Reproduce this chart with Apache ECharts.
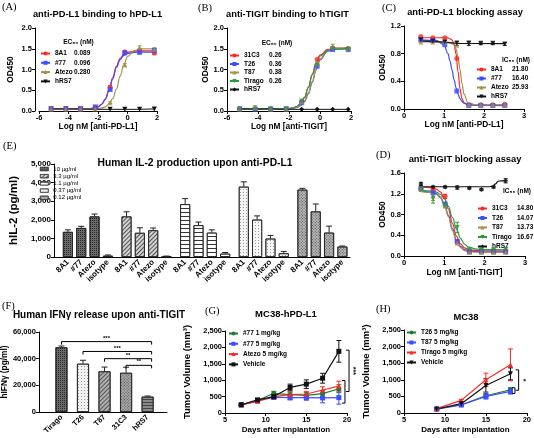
<!DOCTYPE html>
<html><head><meta charset="utf-8">
<script src="https://cdn.jsdelivr.net/npm/echarts@6/dist/echarts.min.js"></script>
<style>html,body{margin:0;padding:0;background:#fff}#c{width:534px;height:438px}</style>
</head><body><div id="c"></div>
<script>
// ---------------- DATA ----------------
// (A) anti-PD-L1 binding to hPD-L1
const aDose = [-5.18,-4.18,-3.18,-2.18,-1.18,-0.18,0.82,1.82];
const a8A1 = [0.05,0.05,0.05,0.08,0.57,1.42,1.46,1.40];
const a8A1Err = [0.01,0.01,0.01,0.01,0.04,0.03,0.03,0.04];
const a77 = [0.05,0.05,0.05,0.10,0.52,1.40,1.42,1.46];
const a77Err = [0.01,0.01,0.01,0.02,0.03,0.04,0.05,0.05];
const aAtezo = [0.05,0.05,0.05,0.05,0.20,1.11,1.53,1.49];
const aAtezoErr = [0.01,0.01,0.01,0.01,0.02,0.03,0.04,0.03];
const aHRS7 = [0.05,0.05,0.05,0.04,0.04,0.04,0.04,0.05];
const aEC50 = {'8A1':'0.089','#77':'0.096','Atezo':'0.280'};
// fitted curves
const aFitX = [-5.2,-3,-2.5,-2,-1.75,-1.5,-1.25,-1,-0.75,-0.5,-0.25,0,0.5,1,1.82];
const a8A1Fit = [0.05,0.052,0.059,0.10,0.165,0.294,0.517,0.81,1.08,1.27,1.367,1.414,1.445,1.45,1.45];
const a77Fit = [0.05,0.052,0.058,0.10,0.16,0.28,0.49,0.77,1.05,1.24,1.34,1.39,1.415,1.42,1.42];
const aAtezoFit = [0.05,0.05,0.051,0.06,0.073,0.10,0.169,0.30,0.53,0.84,1.12,1.31,1.46,1.495,1.5];

// (B) anti-TIGIT binding to hTIGIT
const bDose = [-5.18,-4.18,-3.18,-2.18,-1.18,-0.18,0.82,1.82];
const b31C3 = [0.05,0.05,0.05,0.05,0.22,1.25,1.52,1.50];
const bT26 = [0.05,0.04,0.05,0.05,0.20,1.08,1.48,1.48];
const bT87 = [0.05,0.08,0.05,0.05,0.22,1.15,1.56,1.51];
const bT87Err = [0.01,0.05,0.01,0.01,0.02,0.04,0.05,0.03];
const bTirago = [0.05,0.05,0.05,0.05,0.24,1.10,1.50,1.49];
const bHRS7 = [0.05,0.05,0.05,0.04,0.04,0.04,0.04,0.04];
const bEC50 = {'31C3':'0.26','T26':'0.36','T87':'0.38','Tirago':'0.26'};
const bFitX = [-5.2,-3,-2.5,-2,-1.75,-1.5,-1.25,-1,-0.75,-0.5,-0.25,0,0.5,1,1.82];
const b31C3Fit = [0.05,0.05,0.052,0.061,0.075,0.109,0.182,0.329,0.575,0.885,1.164,1.345,1.486,1.515,1.52];
const bTiragoFit = [0.05,0.05,0.052,0.06,0.074,0.106,0.178,0.32,0.56,0.87,1.14,1.32,1.46,1.49,1.495];
const bT26Fit = [0.05,0.05,0.051,0.056,0.065,0.086,0.131,0.228,0.41,0.69,0.993,1.23,1.444,1.49,1.5];
const bT87Fit = [0.05,0.05,0.051,0.057,0.067,0.09,0.137,0.24,0.43,0.71,1.01,1.25,1.46,1.51,1.52];

// (C) anti-PD-L1 blocking assay
const cDose = [0.42,0.72,1.02,1.32,1.62,1.92,2.22,2.52];
const c8A1 = [1.05,1.03,1.03,0.73,0.06,0.06,0.06,0.07];
const c77 = [1.00,0.99,0.93,0.26,0.05,0.05,0.05,0.05];
const cAtezo = [0.97,0.97,0.97,0.92,0.07,0.06,0.06,0.06];
const cHRS7 = [1.00,0.98,0.97,0.95,0.95,0.95,0.95,0.94];
const cHRS7Err = [0.02,0.02,0.02,0.03,0.03,0.02,0.02,0.02];
const cIC50 = {'8A1':'21.80','#77':'16.40','Atezo':'25.93'};
const cFitX = [0.42,0.8,1.0,1.1,1.15,1.2,1.25,1.3,1.35,1.4,1.45,1.5,1.6,1.8,2.52];
const c8A1Fit = [1.03,1.03,1.03,1.027,1.015,1.0,0.94,0.80,0.545,0.293,0.148,0.09,0.063,0.06,0.06];
const c77Fit = [1.0,0.992,0.926,0.80,0.695,0.566,0.43,0.31,0.216,0.151,0.109,0.084,0.061,0.051,0.05];
const cAtezoFit = [0.97,0.97,0.97,0.968,0.962,0.95,0.928,0.87,0.755,0.572,0.368,0.214,0.088,0.06,0.06];
const cHRS7FitX = [0.42,0.8,1.0,1.2,1.4,2.52];
const cHRS7Fit = [0.985,0.975,0.965,0.955,0.947,0.945];

// (D) anti-TIGIT blocking assay
const dDose = [0.42,0.72,1.02,1.32,1.62,1.92,2.22,2.52];
const d31C3 = [1.30,1.28,1.15,0.28,0.10,0.10,0.10,0.10];
const d31C3Err = [0.03,0.04,0.04,0.03,0.02,0.02,0.02,0.02];
const dT26 = [1.30,1.22,1.00,0.28,0.08,0.08,0.08,0.08];
const dT87 = [1.28,1.15,0.97,0.25,0.07,0.07,0.07,0.07];
const dT87Err = [0.03,0.08,0.03,0.03,0.02,0.02,0.02,0.02];
const dTirago = [1.28,1.12,0.98,0.55,0.12,0.12,0.12,0.13];
const dTiragoErr = [0.03,0.10,0.05,0.10,0.03,0.02,0.02,0.03];
const dHRS7 = [1.39,1.33,1.33,1.32,1.31,1.28,1.33,1.45];
const dHRS7Err = [0.03,0.02,0.02,0.03,0.02,0.02,0.02,0.04];
const dIC50 = {'31C3':'14.80','T26':'14.07','T87':'13.73','Tirago':'16.67'};
const dFitX = [0.42,0.7,0.8,0.9,1.0,1.1,1.2,1.3,1.4,1.5,1.6,1.8,2.0,2.52];
const d31C3Fit = [1.33,1.314,1.29,1.236,1.117,0.907,0.63,0.385,0.232,0.156,0.123,0.104,0.101,0.1];
const dT26Fit = [1.25,1.23,1.204,1.142,1.011,0.79,0.527,0.31,0.184,0.124,0.098,0.083,0.08,0.08];
const dT87Fit = [1.24,1.22,1.19,1.12,0.98,0.76,0.49,0.28,0.16,0.105,0.083,0.072,0.07,0.07];
const dTiragoFit = [1.27,1.253,1.233,1.19,1.106,0.957,0.746,0.52,0.341,0.23,0.172,0.131,0.122,0.12];
const dHRS7FitX = [0.42,1.0,1.5,2.1,2.2,2.27,2.33,2.4,2.52];
const dHRS7Fit = [1.335,1.335,1.335,1.335,1.345,1.39,1.44,1.45,1.45];

// (E) Human IL-2 production upon anti-PD-L1
const eCats = ['8A1','#77','Atezo','isotype'];
const eConc = ['10 µg/ml','3.3 µg/ml','1.1 µg/ml','0.37 µg/ml','0.12 µg/ml'];
const eMeans = [[1350,1560,2180,70],[2180,1300,1440,30],[2840,1710,1310,180],[3780,2010,990,200],[3620,2450,1310,560]];
const eErr = [[110,90,130,40],[250,270,120,20],[300,170,150,60],[260,200,170,100],[70,400,350,30]];

// (F) Human IFNγ release upon anti-TIGIT
const fCats = ['Tirago','T26','T87','31C3','hRS7'];
const fMeans = [48500,36200,30500,29400,11500];
const fErr = [1000,2600,3200,4200,500];
const fSigFrom = [0,1,2,3];
const fSigTo = [4,4,4,4];
const fSigY = [52800,45400,40000,35000];
const fSigTxt = ['***','***','**','**'];

// (G) MC38-hPD-L1
const gDays = [7,9,11,13,15,17,19];
const g77lo = [250,380,600,560,540,590,740];
const g77loErr = [20,40,60,80,90,90,120];
const g77hi = [250,370,480,470,470,460,470];
const g77hiErr = [20,40,60,70,80,150,200];
const gAtezo = [250,360,500,560,580,700,820];
const gAtezoErr = [20,40,60,80,80,100,150];
const gVeh = [250,400,500,780,880,1060,1880];
const gVehErr = [20,40,60,100,130,150,330];
const gBrX = [20.25,19.75], gBrY1 = [1915,990], gBrY2 = [655,302], gBrTxt = ['***',''];

// (H) MC38
const hDays = [9,12,15,18];
const hT26 = [120,250,520,700];
const hT26Err = [20,30,60,60];
const hT87 = [115,240,500,650];
const hT87Err = [20,30,80,80];
const hTirago = [130,380,1000,1450];
const hTiragoErr = [20,30,200,480];
const hVeh = [120,280,830,1180];
const hVehErr = [20,40,200,180];
const hBrX = [19.0,18.55], hBrY1 = [1300,760], hBrY2 = [685,590], hBrTxt = ['*',''];

// ---------------- STYLE / LAYOUT ----------------
const FF = '"Liberation Sans", Arial, sans-serif';
const SERIF = '"Liberation Serif", "Times New Roman", serif';
const RED='#ff2626', BLUE='#3d4dff', OLIVE='#a3924a', GREEN='#2b9a3a', BLACK='#111111', GGREEN='#1e7d2b';

const grids = [
  {left:39, top:28, width:118, height:83},
  {left:227, top:28, width:124, height:83},
  {left:404, top:26, width:120, height:83},
  {left:404, top:173, width:121, height:83},
  {left:34, top:164, width:316, height:93},
  {left:36, top:332, width:131, height:80},
  {left:225, top:331, width:122, height:82},
  {left:404, top:330, width:123, height:83}
];

const lbl = (o) => Object.assign({color:'#000', fontFamily:FF, fontWeight:'bold', fontSize:7.5, margin:3}, o||{});
const nm = (o) => Object.assign({color:'#000', fontFamily:FF, fontWeight:'bold', fontSize:8.3}, o||{});
function ax(g, o) {
  return Object.assign({
    gridIndex:g, type:'value', nameLocation:'middle',
    axisLine:{show:true, onZero:false, lineStyle:{color:'#000', width:1}},
    axisTick:{show:true, length:3, lineStyle:{color:'#000', width:1}},
    splitLine:{show:false},
    axisLabel:lbl(), nameTextStyle:nm()
  }, o);
}
const f1 = v => v.toFixed(1);

// E positions (4 bars per group with a gap)
const ePos = [];
for (let g = 0; g < 5; g++) for (let i = 0; i < 4; i++) ePos.push(i + g*4.4);
const eLabel = v => { let b = 0; ePos.forEach((p,k)=>{ if (Math.abs(p-v) < Math.abs(ePos[b]-v)) b = k; }); return eCats[b % 4]; };
const fPos = fCats.map((c,i)=>i);

const xAxes = [
  ax(0,{min:-6,max:2,interval:2,name:'Log nM [anti-PD-L1]',nameGap:12}),
  ax(1,{min:-6,max:2,interval:2,name:'Log nM [anti-TIGIT]',nameGap:12}),
  ax(2,{min:0,max:3,interval:1,name:'Log nM [anti-PD-L1]',nameGap:12}),
  ax(3,{min:0,max:3,interval:1,name:'Log nM [anti-TIGIT]',nameGap:13}),
  ax(4,{min:-1.05,max:21.17,axisTick:{show:false},axisLabel:lbl({customValues:ePos,formatter:eLabel,rotate:45,fontSize:8,margin:4})}),
  ax(5,{min:-1.05,max:4.9,axisTick:{show:false},axisLabel:lbl({customValues:fPos,formatter:v=>fCats[Math.round(v)],rotate:45,fontSize:7.5,margin:4})}),
  ax(6,{min:5,max:20,interval:5,name:'Days after implantation',nameGap:13,nameTextStyle:nm({fontSize:8})}),
  ax(7,{min:5,max:20,interval:5,name:'Days after implantation',nameGap:13,nameTextStyle:nm({fontSize:8})})
];
const yAxes = [
  ax(0,{min:0,max:2,interval:0.5,name:'OD450',nameGap:20,offset:4,axisLabel:lbl({formatter:f1})}),
  ax(1,{min:0,max:2,interval:0.5,name:'OD450',nameGap:17,axisLabel:lbl({formatter:f1})}),
  ax(2,{min:0,max:1.2,interval:0.4,name:'OD450',nameGap:13,axisLabel:lbl({formatter:f1})}),
  ax(3,{min:0,max:1.6,interval:0.4,name:'OD450',nameGap:13,axisLabel:lbl({formatter:f1})}),
  ax(4,{min:0,max:5000,interval:1000,name:'hIL-2 (pg/ml)',nameGap:15,nameTextStyle:nm({fontSize:11.5}),axisLabel:lbl({fontSize:8})}),
  ax(5,{min:0,max:60000,interval:20000,name:'hIFNγ (pg/ml)',nameGap:23,nameTextStyle:nm({fontSize:8.3})}),
  ax(6,{min:0,max:2500,interval:500,name:'Tumor Volume (mm³)',nameGap:33,nameTextStyle:nm({fontSize:9.5})}),
  ax(7,{min:0,max:2500,interval:500,name:'Tumor Volume (mm³)',nameGap:33,nameTextStyle:nm({fontSize:9.5})})
];

const pairs = (xs, ys) => xs.map((x,i)=>[x, ys[i]]);
function fit(name, g, xs, ys, color, sym, rot) {
  return {name, type:'line', xAxisIndex:g, yAxisIndex:g, data:pairs(xs,ys), smooth:0.4, smoothMonotone:'x',
    showSymbol:false, symbol:sym, symbolRotate:rot||0, symbolSize:5, lineStyle:{color, width:1.2}, itemStyle:{color}, silent:true, z:2};
}
function pts(g, xs, ys, color, sym, rot) {
  return {type:'scatter', xAxisIndex:g, yAxisIndex:g, data:pairs(xs,ys), symbol:sym, symbolRotate:rot||0, symbolSize:5,
    itemStyle:{color}, silent:true, z:4};
}
function lineMk(name, g, xs, ys, color, sym, rot, w) {
  return {name, type:'line', xAxisIndex:g, yAxisIndex:g, data:pairs(xs,ys), symbol:sym, symbolRotate:rot||0, symbolSize:5,
    lineStyle:{color, width:w||1.2}, itemStyle:{color}, silent:true, z:3};
}
function errs(g, xs, ys, es, color, cap, upOnly) {
  return {type:'custom', xAxisIndex:g, yAxisIndex:g, silent:true, z:3,
    data: xs.map((x,i)=>[x, ys[i], es[i]]), encode:{x:0, y:1},
    renderItem:(p, api)=>{
      const x=api.value(0), y=api.value(1), e=api.value(2);
      const a=api.coord([x,y+e]), b=api.coord([x, upOnly?y:y-e]);
      const st={stroke:color, lineWidth:1};
      const ch=[{type:'line',shape:{x1:a[0],y1:a[1],x2:b[0],y2:b[1]},style:st},
                {type:'line',shape:{x1:a[0]-cap,y1:a[1],x2:a[0]+cap,y2:a[1]},style:st}];
      if(!upOnly) ch.push({type:'line',shape:{x1:b[0]-cap,y1:b[1],x2:b[0]+cap,y2:b[1]},style:st});
      return {type:'group', children:ch};
    }};
}
function vBrackets(g, xs, y1, y2, txt) {
  return {type:'custom', xAxisIndex:g, yAxisIndex:g, silent:true, z:5, clip:false,
    data: xs.map((x,i)=>[x, y1[i], y2[i]]), encode:{x:0, y:1},
    renderItem:(p, api)=>{
      const a=api.coord([api.value(0),api.value(1)]), b=api.coord([api.value(0),api.value(2)]);
      const ch=[{type:'polyline',shape:{points:[[a[0]-3,a[1]],[a[0],a[1]],[b[0],b[1]],[b[0]-3,b[1]]]},style:{stroke:'#000',fill:null,lineWidth:1}}];
      const t = txt[p.dataIndex];
      if (t) ch.push({type:'text', x:a[0]+4, y:(a[1]+b[1])/2, rotation:-Math.PI/2,
        style:{text:t, fill:'#000', font:'bold 7px '+FF, align:'center', verticalAlign:'middle', textAlign:'center', textVerticalAlign:'middle'}});
      return {type:'group', children:ch};
    }};
}

const series = [];
// A
series.push(fit('8A1',0,aFitX,a8A1Fit,RED,'circle'), fit('#77',0,aFitX,a77Fit,BLUE,'rect'), fit('Atezo',0,aFitX,aAtezoFit,OLIVE,'triangle'));
series.push(lineMk('hRS7',0,aDose,aHRS7,BLACK,'triangle',180,1));
series.push(errs(0,aDose,a8A1,a8A1Err,RED,2), errs(0,aDose,a77,a77Err,BLUE,2), errs(0,aDose,aAtezo,aAtezoErr,OLIVE,2));
series.push(pts(0,aDose,a8A1,RED,'circle'), pts(0,aDose,a77,BLUE,'rect'), pts(0,aDose,aAtezo,OLIVE,'triangle'));
// B
series.push(fit('31C3',1,bFitX,b31C3Fit,RED,'circle'), fit('T26',1,bFitX,bT26Fit,BLUE,'rect'), fit('T87',1,bFitX,bT87Fit,OLIVE,'triangle'), fit('Tirago',1,bFitX,bTiragoFit,GREEN,'triangle',180));
series.push(lineMk('hRS7 ',1,bDose,bHRS7,BLACK,'diamond',0,1));
series.push(errs(1,bDose,bT87,bT87Err,OLIVE,2));
series.push(pts(1,bDose,b31C3,RED,'circle'), pts(1,bDose,bT26,BLUE,'rect'), pts(1,bDose,bT87,OLIVE,'triangle'), pts(1,bDose,bTirago,GREEN,'triangle',180));
// C
series.push(fit('8A1',2,cFitX,c8A1Fit,RED,'circle'), fit('#77',2,cFitX,c77Fit,BLUE,'rect'), fit('Atezo',2,cFitX,cAtezoFit,OLIVE,'triangle'), fit('hRS7',2,cHRS7FitX,cHRS7Fit,BLACK,'triangle',180));
series.push(errs(2,cDose,cHRS7,cHRS7Err,BLACK,2));
series.push(pts(2,cDose,c8A1,RED,'circle'), pts(2,cDose,c77,BLUE,'rect'), pts(2,cDose,cAtezo,OLIVE,'triangle'), pts(2,cDose,cHRS7,BLACK,'triangle',180));
// D
series.push(fit('31C3',3,dFitX,d31C3Fit,RED,'circle'), fit('T26',3,dFitX,dT26Fit,BLUE,'rect'), fit('T87',3,dFitX,dT87Fit,OLIVE,'triangle'), fit('Tirago',3,dFitX,dTiragoFit,GREEN,'triangle',180), fit('hRS7 ',3,dHRS7FitX,dHRS7Fit,BLACK,'diamond'));
series.push(errs(3,dDose,d31C3,d31C3Err,RED,2), errs(3,dDose,dT87,dT87Err,OLIVE,2), errs(3,dDose,dTirago,dTiragoErr,GREEN,2), errs(3,dDose,dHRS7,dHRS7Err,BLACK,2));
series.push(pts(3,dDose,d31C3,RED,'circle'), pts(3,dDose,dT26,BLUE,'rect'), pts(3,dDose,dT87,OLIVE,'triangle'), pts(3,dDose,dTirago,GREEN,'triangle',180), pts(3,dDose,dHRS7,BLACK,'diamond'));
// E
const eFill = ['#6a6a6a','#d2d2d2','#ffffff','#f6f6f6','#b8b8b8'];
const eDecal = [
  {symbol:'rect', symbolSize:1, dashArrayX:[1,1], dashArrayY:[1,1], rotation:0, color:'rgba(20,20,20,0.75)'},
  {symbol:'rect', symbolSize:1, dashArrayX:[1,0], dashArrayY:[1,2], rotation:-Math.PI/4, color:'#555'},
  {symbol:'rect', symbolSize:1, dashArrayX:[1,0], dashArrayY:[1,2.5], rotation:0, color:'#333'},
  {symbol:'rect', symbolSize:1, dashArrayX:[1,2], dashArrayY:[1,2], rotation:0, color:'#999'},
  {symbol:'rect', symbolSize:1, dashArrayX:[1,1], dashArrayY:[1,1], rotation:Math.PI/4, color:'#555'}
];
eConc.forEach((c, gi) => {
  const xs = ePos.slice(gi*4, gi*4+4);
  series.push({name:c, type:'bar', xAxisIndex:4, yAxisIndex:4, barWidth:10, barGap:'-100%', data:pairs(xs, eMeans[gi]),
    itemStyle:{color:eFill[gi], borderColor:'#222', borderWidth:0.8, decal:eDecal[gi]}, silent:true, z:2});
  series.push(errs(4, xs, eMeans[gi], eErr[gi], '#222', 3, true));
});
// F
const fFill = ['#6a6a6a','#f2f2f2','#b0b0b0','#a8a8a8','#8a8a8a'];
const fDecal = [eDecal[0], eDecal[3], eDecal[1], eDecal[4], {symbol:'rect', symbolSize:1, dashArrayX:[1,0], dashArrayY:[1,1.5], rotation:0, color:'#444'}];
series.push({type:'bar', xAxisIndex:5, yAxisIndex:5, barWidth:12,
  data: fMeans.map((v,i)=>({value:[fPos[i], v], itemStyle:{color:fFill[i], decal:fDecal[i], borderColor:'#222', borderWidth:0.8}})), silent:true, z:2});
series.push(errs(5, fPos, fMeans, fErr, '#222', 3, true));
series.push({type:'custom', xAxisIndex:5, yAxisIndex:5, silent:true, z:5, clip:false,
  data: fSigY.map((y,i)=>[fSigFrom[i], fSigTo[i], y]), encode:{x:0, y:2},
  renderItem:(p, api)=>{
    const a=api.coord([api.value(0),api.value(2)]), b=api.coord([api.value(1),api.value(2)]);
    const bx = b[0]+4;
    return {type:'group', children:[
      {type:'polyline', shape:{points:[[a[0],a[1]+3],[a[0],a[1]],[bx,b[1]],[bx,b[1]+3]]}, style:{stroke:'#000',fill:null,lineWidth:1}},
      {type:'text', x:(a[0]+bx)/2, y:a[1]-0.5, style:{text:fSigTxt[p.dataIndex], fill:'#000', font:'bold 6px '+FF, align:'center', verticalAlign:'bottom', textAlign:'center', textVerticalAlign:'bottom'}}
    ]};
  }});
// G
series.push(lineMk('#77 1 mg/kg',6,gDays,g77lo,GGREEN,'circle'), lineMk('#77 5 mg/kg',6,gDays,g77hi,BLUE,'rect'), lineMk('Atezo 5 mg/kg',6,gDays,gAtezo,RED,'triangle'), lineMk('Vehicle',6,gDays,gVeh,BLACK,'rect'));
series.push(errs(6,gDays,g77lo,g77loErr,GGREEN,2.5), errs(6,gDays,g77hi,g77hiErr,BLUE,2.5), errs(6,gDays,gAtezo,gAtezoErr,RED,2.5), errs(6,gDays,gVeh,gVehErr,BLACK,2.5));
series.push(vBrackets(6,gBrX,gBrY1,gBrY2,gBrTxt));
// H
series.push(lineMk('T26 5 mg/kg',7,hDays,hT26,GGREEN,'circle'), lineMk('T87 5 mg/kg',7,hDays,hT87,BLUE,'rect'), lineMk('Tirago 5 mg/kg',7,hDays,hTirago,RED,'triangle'), lineMk('Vehicle ',7,hDays,hVeh,BLACK,'triangle',180));
series.push(errs(7,hDays,hT26,hT26Err,GGREEN,2.5), errs(7,hDays,hT87,hT87Err,BLUE,2.5), errs(7,hDays,hTirago,hTiragoErr,RED,2.5), errs(7,hDays,hVeh,hVehErr,BLACK,2.5));
series.push(vBrackets(7,hBrX,hBrY1,hBrY2,hBrTxt));

// legends
function leg(names, left, top, gap, vals, nw, o) {
  const fs = (o && o.fs) || 6.5, fw = (o && o.fw) || 'bold';
  const L = {show:true, orient:'vertical', left, top, padding:0, itemWidth:(o&&o.iw)||9, itemHeight:(o&&o.ih)||5, itemGap:gap,
    selectedMode:false, data:names,
    textStyle:{fontFamily:FF, fontWeight:fw, fontSize:fs, color:'#000', lineHeight:6,
      rich:{n:{width:nw||0, fontFamily:FF, fontWeight:fw, fontSize:fs, lineHeight:6}, v:{fontFamily:FF, fontWeight:fw, fontSize:fs, lineHeight:6}}},
    formatter: vals ? (n => vals[n.trim()] ? '{n|'+n.trim()+'}{v|'+vals[n.trim()]+'}' : '{n|'+n.trim()+'}') : (n => n.trim())};
  if (o && o.icon) { L.icon = o.icon; L.itemStyle = {borderWidth:0.6, borderColor:'#333'}; }
  return L;
}
const legends = [
  leg(['8A1','#77','Atezo','hRS7'], 40, 50, 2.3, aEC50, 19),
  leg(['31C3','T26','T87','Tirago','hRS7 '], 229, 52, 1.5, bEC50, 25),
  leg(['8A1','#77','Atezo','hRS7'], 476, 66, 2, cIC50, 21),
  leg(['31C3','T26','T87','Tirago','hRS7 '], 477, 205, 2.5, dIC50, 25),
  leg(eConc, 40, 166, 1.2, null, 0, {fs:6, fw:'normal', iw:8, ih:3.5, icon:'rect'}),
  leg(['#77 1 mg/kg','#77 5 mg/kg','Atezo 5 mg/kg','Vehicle'], 228, 330, 3.3),
  leg(['T26 5 mg/kg','T87 5 mg/kg','Tirago 5 mg/kg','Vehicle '], 406, 329, 3)
];

// texts
const T = (text, x, y, size, o) => ({type:'text', x, y, silent:true, style:Object.assign({text, fill:'#000', font:'bold '+size+'px '+FF,
  align:'center', verticalAlign:'middle', textAlign:'center', textVerticalAlign:'middle'}, o||{})});
const P = (text, x, y) => T(text, x, y, 10.5, {font:'10.5px '+SERIF, align:'left', textAlign:'left'});
const graphics = [
  P('(A)',2,7), P('(B)',198,8), P('(C)',382,8), P('(E)',3,146), P('(D)',376,155), P('(F)',2,306), P('(G)',205,311), P('(H)',376,309),
  T('anti-PD-L1 binding to hPD-L1',97.5,14,9.3), T('anti-TIGIT binding to hTIGIT',287.5,14,9.3), T('anti-PD-L1 blocking assay',465,12,9.3),
  T('Human IL-2 production upon anti-PD-L1',195,163,10.3), T('anti-TIGIT blocking assay',465,159,9.3),
  T('Human IFNγ release upon anti-TIGIT',99,315,10), T('MC38-hPD-L1',286,314,9.5), T('MC38',466,317,9.4),
  T('EC₅₀ (nM)',78.5,42,6.5), T('EC₅₀ (nM)',277,43,6.5), T('IC₅₀ (nM)',516,60,6.5), T('IC₅₀ (nM)',517,191,6.5)
];

const chart = echarts.init(document.getElementById('c'), null, {renderer:'canvas', width:534, height:438});
chart.setOption({
  animation:false, backgroundColor:'#fff',
  grid: grids, xAxis: xAxes, yAxis: yAxes, series, legend: legends,
  graphic: {elements: graphics}
});
</script></body></html>
